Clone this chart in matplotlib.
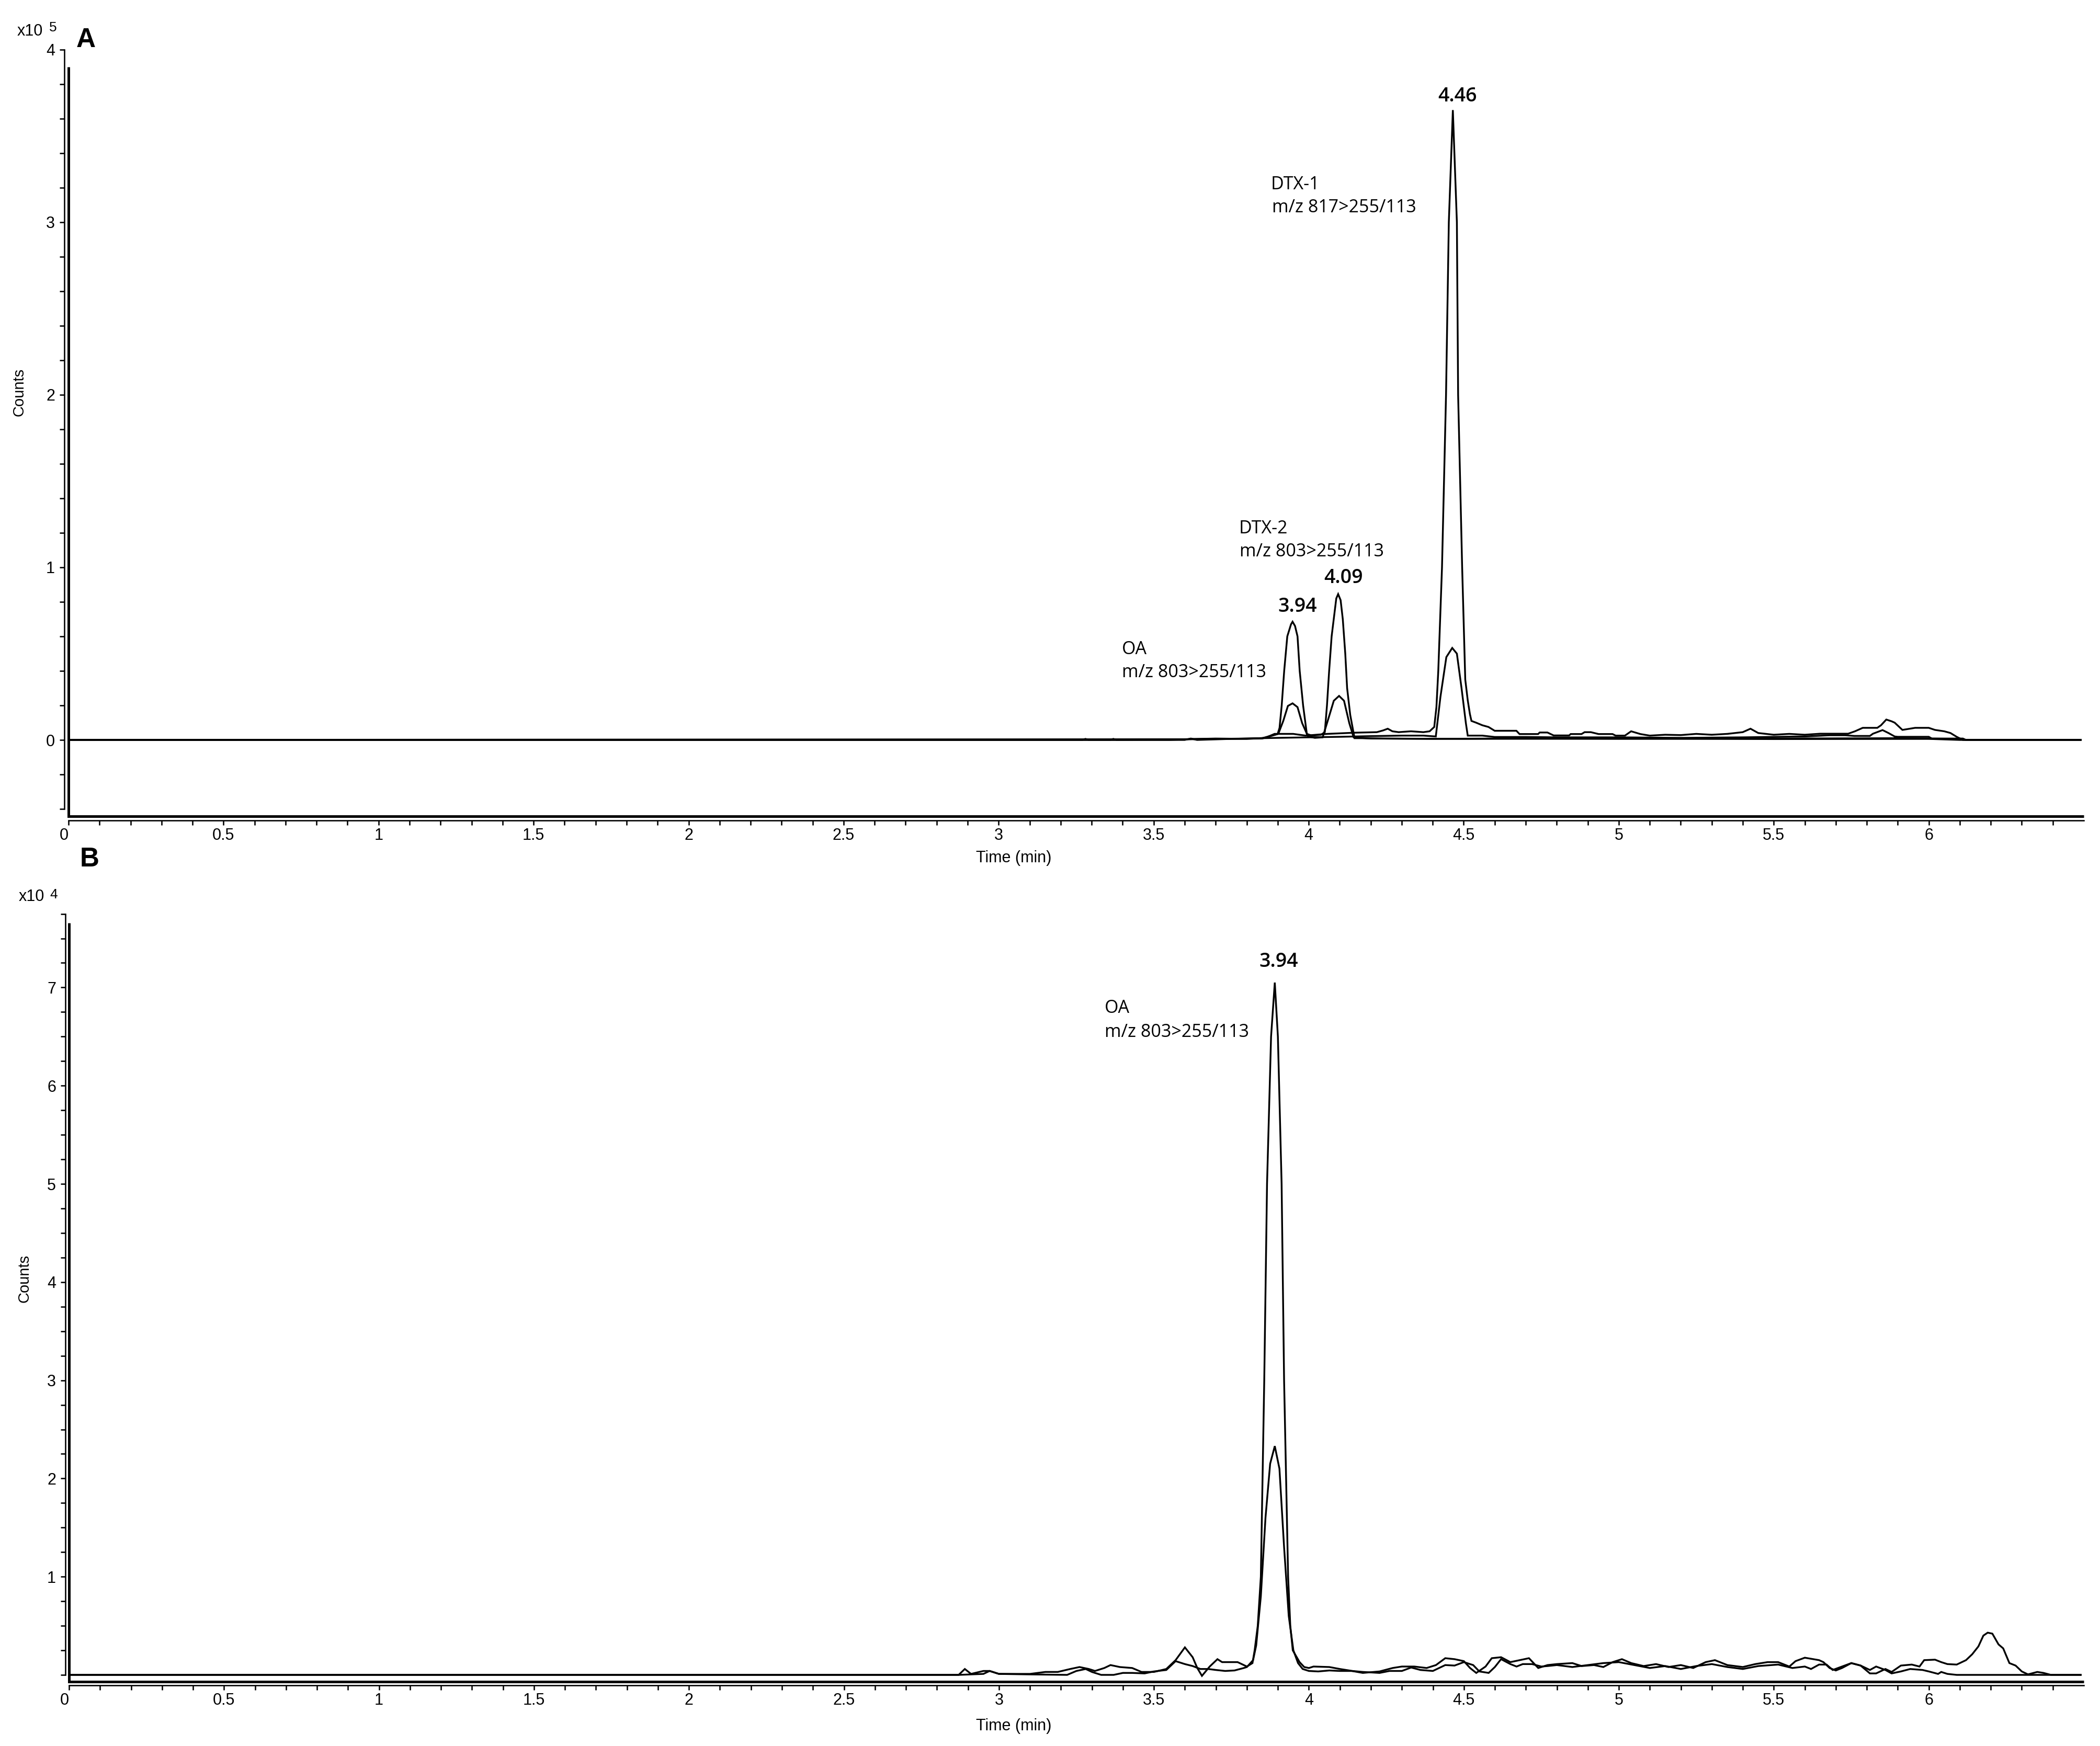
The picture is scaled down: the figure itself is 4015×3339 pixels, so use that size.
import matplotlib
matplotlib.use("Agg")
import matplotlib.pyplot as plt
from matplotlib.ticker import FixedLocator, FixedFormatter

# ---------------- data (panel A: counts x10^5, panel B: counts x10^4) ----------------
A_803_255_t = [0.00, 3.60, 3.62, 3.64, 3.75, 3.85, 3.88, 3.900, 3.906, 3.913, 3.921, 3.931, 3.943, 3.948,
               3.956, 3.964, 3.971, 3.982, 3.994, 4.010, 4.040, 4.052, 4.059, 4.066, 4.074, 4.089, 4.095,
               4.103, 4.110, 4.118, 4.124, 4.134, 4.148, 4.170, 4.250, 4.400, 4.600, 5.000, 5.500, 5.900,
               6.100, 6.120, 6.490]
A_803_255_v = [0.000, 0.000, 0.008, 0.000, 0.006, 0.010, 0.025, 0.035, 0.070, 0.200, 0.400, 0.600, 0.670, 0.685,
               0.660, 0.600, 0.400, 0.200, 0.035, 0.025, 0.030, 0.045, 0.200, 0.400, 0.600, 0.820, 0.845,
               0.810, 0.700, 0.500, 0.300, 0.145, 0.010, 0.010, 0.008, 0.006, 0.008, 0.006, 0.008, 0.010,
               0.006, 0.000, 0.000]

A_803_113_t = [0.00, 3.27, 3.28, 3.29, 3.36, 3.37, 3.38, 3.60, 3.85, 3.902, 3.918, 3.933, 3.948, 3.964,
               3.979, 3.998, 4.020, 4.045, 4.063, 4.081, 4.098, 4.114, 4.131, 4.145, 4.200, 4.500, 5.000,
               5.500, 6.000, 6.100, 6.490]
A_803_113_v = [0.000, 0.000, 0.006, 0.000, 0.000, 0.006, 0.000, 0.004, 0.008, 0.035, 0.110, 0.197, 0.212, 0.190,
               0.097, 0.020, 0.012, 0.015, 0.120, 0.227, 0.255, 0.227, 0.097, 0.015, 0.008, 0.006, 0.008,
               0.005, 0.006, 0.000, 0.000]

A_817_255_t = [0.00, 3.55, 3.62, 3.70, 3.80, 3.86, 3.89, 3.95, 3.99, 4.06, 4.15, 4.22, 4.24, 4.255, 4.27,
               4.29, 4.33, 4.37, 4.39, 4.405, 4.412, 4.418, 4.430, 4.443, 4.452, 4.465, 4.478, 4.482, 4.495,
               4.505, 4.513, 4.520, 4.525, 4.540, 4.560, 4.580, 4.600, 4.670, 4.680, 4.740, 4.745, 4.770,
               4.790, 4.840, 4.845, 4.880, 4.890, 4.910, 4.935, 4.980, 4.990, 5.020, 5.040, 5.070, 5.100,
               5.150, 5.200, 5.250, 5.300, 5.350, 5.400, 5.425, 5.450, 5.500, 5.550, 5.600, 5.650, 5.740,
               5.762, 5.787, 5.834, 5.846, 5.863, 5.880, 5.890, 5.915, 5.956, 6.000, 6.020, 6.050, 6.070,
               6.090, 6.110, 6.490]
A_817_255_v = [0.000, 0.000, 0.005, 0.008, 0.006, 0.012, 0.035, 0.035, 0.025, 0.035, 0.042, 0.045, 0.055, 0.065, 0.050,
               0.045, 0.050, 0.045, 0.050, 0.075, 0.190, 0.400, 1.000, 2.000, 3.000, 3.650, 3.000, 2.000, 1.000,
               0.350, 0.230, 0.150, 0.110, 0.100, 0.085, 0.075, 0.053, 0.053, 0.034, 0.034, 0.043, 0.043,
               0.026, 0.026, 0.034, 0.034, 0.045, 0.045, 0.034, 0.034, 0.025, 0.025, 0.050, 0.034, 0.025,
               0.030, 0.028, 0.035, 0.030, 0.035, 0.045, 0.065, 0.040, 0.030, 0.035, 0.030, 0.036, 0.036,
               0.050, 0.070, 0.070, 0.085, 0.118, 0.108, 0.100, 0.058, 0.070, 0.070, 0.058, 0.050, 0.040,
               0.018, 0.000, 0.000]

A_817_113_t = [0.00, 3.60, 3.80, 3.90, 4.00, 4.10, 4.20, 4.30, 4.37, 4.410, 4.425, 4.444, 4.463, 4.478,
               4.493, 4.507, 4.513, 4.560, 4.600, 4.700, 4.800, 5.000, 5.200, 5.400, 5.600, 5.680, 5.730,
               5.760, 5.810, 5.820, 5.851, 5.870, 5.890, 5.900, 6.000, 6.010, 6.110, 6.120, 6.490]
A_817_113_v = [0.000, 0.004, 0.008, 0.012, 0.015, 0.018, 0.022, 0.025, 0.025, 0.020, 0.250, 0.480, 0.533, 0.500,
               0.300, 0.097, 0.025, 0.025, 0.017, 0.017, 0.015, 0.015, 0.012, 0.015, 0.020, 0.027, 0.027,
               0.023, 0.023, 0.036, 0.057, 0.040, 0.020, 0.018, 0.018, 0.008, 0.008, 0.000, 0.000]

B_803_255_t = [0.00, 2.87, 2.89, 2.91, 2.95, 2.97, 3.00, 3.05, 3.10, 3.15, 3.19, 3.23, 3.26, 3.29, 3.31,
               3.34, 3.36, 3.39, 3.43, 3.46, 3.50, 3.54, 3.57, 3.600, 3.625, 3.640, 3.655, 3.680, 3.705,
               3.720, 3.770, 3.800, 3.818, 3.825, 3.835, 3.845, 3.856, 3.865, 3.878, 3.890, 3.900, 3.912,
               3.920, 3.933, 3.940, 3.948, 3.970, 3.985, 4.000, 4.015, 4.066, 4.100, 4.130, 4.174, 4.228,
               4.270, 4.300, 4.340, 4.380, 4.410, 4.440, 4.470, 4.500, 4.520, 4.540, 4.570, 4.590, 4.620,
               4.650, 4.680, 4.710, 4.740, 4.770, 4.800, 4.850, 4.880, 4.920, 4.950, 4.980, 5.010, 5.040,
               5.080, 5.120, 5.160, 5.200, 5.240, 5.280, 5.310, 5.350, 5.400, 5.440, 5.480, 5.514, 5.550,
               5.570, 5.600, 5.646, 5.660, 5.680, 5.700, 5.720, 5.750, 5.780, 5.810, 5.830, 5.860, 5.880,
               5.910, 5.945, 5.970, 5.985, 6.020, 6.040, 6.060, 6.090, 6.120, 6.140, 6.160, 6.176, 6.190,
               6.205, 6.225, 6.240, 6.260, 6.280, 6.300, 6.320, 6.350, 6.370, 6.394, 6.490]
B_803_255_v = [0.000, 0.000, 0.060, 0.010, 0.040, 0.040, 0.010, 0.010, 0.010, 0.030, 0.030, 0.060, 0.080, 0.060, 0.040,
               0.070, 0.100, 0.080, 0.070, 0.030, 0.030, 0.060, 0.150, 0.280, 0.180, 0.070, -0.010, 0.085, 0.160,
               0.130, 0.130, 0.085, 0.120, 0.250, 0.500, 1.000, 3.000, 5.000, 6.500, 7.050, 6.500, 5.000,
               3.000, 1.000, 0.500, 0.250, 0.130, 0.080, 0.070, 0.085, 0.080, 0.060, 0.045, 0.020, 0.035,
               0.070, 0.085, 0.085, 0.070, 0.100, 0.170, 0.160, 0.140, 0.070, 0.020, 0.085, 0.170, 0.180,
               0.130, 0.150, 0.170, 0.070, 0.100, 0.110, 0.120, 0.090, 0.100, 0.080, 0.130, 0.160, 0.120,
               0.090, 0.110, 0.080, 0.100, 0.070, 0.130, 0.150, 0.100, 0.080, 0.110, 0.130, 0.130, 0.085,
               0.140, 0.175, 0.150, 0.130, 0.070, 0.045, 0.070, 0.120, 0.095, 0.015, 0.015, 0.060, 0.030,
               0.095, 0.105, 0.085, 0.150, 0.155, 0.130, 0.110, 0.105, 0.150, 0.210, 0.290, 0.400, 0.430,
               0.420, 0.310, 0.270, 0.120, 0.095, 0.035, 0.005, 0.030, 0.020, 0.000, 0.000]

B_803_113_t = [0.00, 2.87, 2.95, 2.97, 3.00, 3.10, 3.22, 3.25, 3.28, 3.30, 3.33, 3.37, 3.40, 3.43, 3.47,
               3.50, 3.54, 3.57, 3.60, 3.625, 3.65, 3.675, 3.70, 3.73, 3.76, 3.79, 3.80, 3.82, 3.83,
               3.845, 3.86, 3.875, 3.89, 3.905, 3.92, 3.935, 3.95, 3.965, 3.98, 4.000, 4.030, 4.066,
               4.100, 4.140, 4.174, 4.228, 4.260, 4.300, 4.330, 4.360, 4.400, 4.440, 4.470, 4.500, 4.530,
               4.550, 4.580, 4.600, 4.620, 4.650, 4.670, 4.690, 4.720, 4.750, 4.770, 4.800, 4.850, 4.900,
               4.950, 5.000, 5.050, 5.100, 5.150, 5.200, 5.250, 5.300, 5.350, 5.400, 5.450, 5.514, 5.560,
               5.600, 5.620, 5.646, 5.670, 5.690, 5.720, 5.750, 5.780, 5.810, 5.830, 5.860, 5.880, 5.910,
               5.940, 5.980, 6.000, 6.030, 6.040, 6.060, 6.090, 6.490]
B_803_113_v = [0.000, 0.000, 0.010, 0.040, 0.010, 0.005, 0.000, 0.040, 0.060, 0.030, 0.000, 0.000, 0.020, 0.020, 0.015,
               0.035, 0.050, 0.140, 0.110, 0.090, 0.060, 0.060, 0.050, 0.040, 0.045, 0.070, 0.080, 0.150, 0.300,
               0.800, 1.600, 2.150, 2.330, 2.100, 1.300, 0.600, 0.250, 0.120, 0.060, 0.040, 0.035, 0.045,
               0.040, 0.040, 0.030, 0.020, 0.040, 0.040, 0.075, 0.050, 0.040, 0.100, 0.095, 0.130, 0.100,
               0.035, 0.020, 0.080, 0.160, 0.110, 0.085, 0.110, 0.110, 0.085, 0.090, 0.100, 0.080, 0.100,
               0.120, 0.130, 0.100, 0.070, 0.090, 0.060, 0.090, 0.110, 0.080, 0.060, 0.090, 0.105, 0.070,
               0.085, 0.060, 0.105, 0.105, 0.050, 0.085, 0.120, 0.095, 0.050, 0.085, 0.050, 0.015, 0.035,
               0.060, 0.050, 0.035, 0.010, 0.030, 0.010, 0.000, 0.000]

# axis tick labels
x_major = [0, 0.5, 1, 1.5, 2, 2.5, 3, 3.5, 4, 4.5, 5, 5.5, 6]
x_labels = ["0", "0.5", "1", "1.5", "2", "2.5", "3", "3.5", "4", "4.5", "5", "5.5", "6"]
A_y_major = [0, 1, 2, 3, 4]
A_y_labels = ["0", "1", "2", "3", "4"]
B_y_major = [1, 2, 3, 4, 5, 6, 7]
B_y_labels = ["1", "2", "3", "4", "5", "6", "7"]

A_traces = [(A_803_255_t, A_803_255_v), (A_803_113_t, A_803_113_v),
            (A_817_255_t, A_817_255_v), (A_817_113_t, A_817_113_v)]
B_traces = [(B_803_255_t, B_803_255_v), (B_803_113_t, B_803_113_v)]
for t, v in A_traces + B_traces:
    assert len(t) == len(v), (len(t), len(v))

# ---------------- figure ----------------
W, H = 4015, 3339
DPI = 100
PT = 72.0 / DPI  # points per pixel

SANS = ['Liberation Sans', 'DejaVu Sans']
ANN = ['Open Sans', 'DejaVu Sans']
plt.rcParams['font.family'] = SANS

fig = plt.figure(figsize=(W / DPI, H / DPI), dpi=DPI)
fig.patch.set_facecolor('white')


def make_axes(left, right, top, bottom):
    return fig.add_axes([left / W, 1 - bottom / H, (right - left) / W, (bottom - top) / H])


def ftext(x, y, s, **kw):
    fig.text(x / W, 1 - y / H, s, **kw)


def style(ax, ylo, ybounds, ymajor, ylabels, yminor, xminor_max, thick_top, yoff, xoff):
    for s in ('top', 'right'):
        ax.spines[s].set_visible(False)
    ax.spines['left'].set_position(('outward', yoff * PT))
    ax.spines['bottom'].set_position(('outward', xoff * PT))
    ax.spines['left'].set_bounds(*ybounds)
    ax.spines['bottom'].set_bounds(0, 6.5)
    for s in ('left', 'bottom'):
        ax.spines[s].set_linewidth(2.6 * PT)
    ax.xaxis.set_major_locator(FixedLocator(x_major))
    ax.xaxis.set_major_formatter(FixedFormatter(x_labels))
    xm = [round(i * 0.1, 2) for i in range(int(round(xminor_max * 10)) + 1)]
    xm = [v for v in xm if abs(v * 2 - round(v * 2)) > 1e-6]
    ax.xaxis.set_minor_locator(FixedLocator(xm))
    ax.yaxis.set_major_locator(FixedLocator(ymajor))
    ax.yaxis.set_major_formatter(FixedFormatter(ylabels))
    ax.yaxis.set_minor_locator(FixedLocator(yminor))
    ax.tick_params(axis='both', which='both', direction='out', length=9 * PT,
                   width=2.6 * PT, color='black')
    ax.tick_params(axis='x', which='major', labelsize=22, pad=5 * PT)
    ax.tick_params(axis='y', which='major', labelsize=22, pad=9 * PT)
    labs = ax.get_xticklabels()
    for lab in labs + ax.get_yticklabels():
        lab.set_family(SANS)
    # the "0" time label sits just left of the origin
    labs[0].set_horizontalalignment('right')
    # thick inner frame
    ax.plot([0, 0, 6.5], [thick_top, ylo, ylo], color='black', lw=5 * PT, clip_on=False,
            solid_joinstyle='miter', solid_capstyle='butt', zorder=5)


LW = 3.4 * PT

# ---- panel A ----
A_zero, A_scale = 1415.0, 330.0
axA = make_axes(131, 3984, 93, 1561)
A_ylo = -(1561 - A_zero) / A_scale
axA.set_xlim(0, 6.5)
axA.set_ylim(A_ylo, (A_zero - 93) / A_scale)
for t, v in A_traces:
    axA.plot(t, v, color='black', lw=LW, zorder=3, solid_joinstyle='miter')
A_yminor = [round(-0.4 + 0.2 * i, 2) for i in range(23)]
A_yminor = [v for v in A_yminor if abs(v - round(v)) > 1e-6]
style(axA, A_ylo, (-0.4, 4.0), A_y_major, A_y_labels, A_yminor, 6.5,
      (A_zero - 128) / A_scale, 8, 8)

# ---- panel B ----
B_zero, B_scale = 3203.0, 187.8
axB = make_axes(132, 3984, 1747, 3216)
B_ylo = -(3216 - B_zero) / B_scale
axB.set_xlim(0, 6.5)
axB.set_ylim(B_ylo, (B_zero - 1747) / B_scale)
for t, v in B_traces:
    axB.plot(t, v, color='black', lw=LW, zorder=3, solid_joinstyle='miter')
B_yminor = [round(0.25 * i, 2) for i in range(32)]
B_yminor = [v for v in B_yminor if abs(v - round(v)) > 1e-6 or v == 0]
style(axB, B_ylo, (0, 7.75), B_y_major, B_y_labels, B_yminor, 6.4,
      (B_zero - 1765) / B_scale, 7, 7)

# ---- texts ----
# multipliers
ftext(57, 60, "x10", fontsize=22, family=SANS, ha='center', va='center')
ftext(101, 53, "5", fontsize=19, family=SANS, ha='center', va='center')
ftext(60, 1715, "x10", fontsize=22, family=SANS, ha='center', va='center')
ftext(103, 1711, "4", fontsize=19, family=SANS, ha='center', va='center')

# panel letters
ftext(164, 77, "A", fontsize=37, fontweight='bold', family=SANS, ha='center', va='center')
ftext(171, 1644, "B", fontsize=37, fontweight='bold', family=SANS, ha='center', va='center')

# axis titles
ftext(36, 750, "Counts", fontsize=21, family=SANS, rotation=90, ha='center', va='center')
ftext(46, 2445, "Counts", fontsize=21, family=SANS, rotation=90, ha='center', va='center')
ftext(1938, 1641, "Time (min)", fontsize=22, family=SANS, ha='center', va='center')
ftext(1938, 3301, "Time (min)", fontsize=22, family=SANS, ha='center', va='center')

# peak labels
pk_kw = dict(fontsize=27, family=ANN, fontweight='semibold', ha='center', va='center')
ftext(2786, 184, "4.46", **pk_kw)
ftext(2481, 1160, "3.94", **pk_kw)
ftext(2569, 1105, "4.09", **pk_kw)
ftext(2445, 1839, "3.94", **pk_kw)

# compound annotations
ann_kw = dict(fontsize=24.5, family=ANN, ha='left', va='center')
ftext(2430, 353, "DTX-1", **ann_kw)
ftext(2432, 397, "m/z 817>255/113", **ann_kw)
ftext(2369, 1011, "DTX-2", **ann_kw)
ftext(2370, 1055, "m/z 803>255/113", **ann_kw)
ftext(2145, 1242, "OA", **ann_kw)
ftext(2145, 1286, "m/z 803>255/113", **ann_kw)
ftext(2112, 1928, "OA", **ann_kw)
ftext(2112, 1974, "m/z 803>255/113", **ann_kw)

fig.savefig("out.png", dpi=DPI, facecolor='white')
